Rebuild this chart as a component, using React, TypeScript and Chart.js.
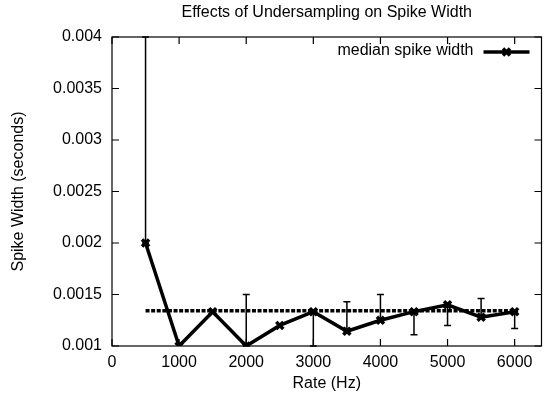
import React, { useEffect, useRef } from "react";
import { Chart, registerables } from "chart.js";

Chart.register(...registerables);

const titleText = "Effects of Undersampling on Spike Width";
const xAxisTitle = "Rate (Hz)";
const yAxisTitle = "Spike Width (seconds)";
const legendLabel = "median spike width";

const rates = [500, 1000, 1500, 2000, 2500, 3000, 3500, 4000, 4500, 5000, 5500, 6000];
const medianWidth = [0.002, 0.001, 0.0013333, 0.001, 0.0012, 0.0013333, 0.0011429, 0.00125, 0.0013333, 0.0014, 0.00128, 0.0013333];
const errLow = [0.002, 0.001, 0.0013333, 0.001, 0.0012, 0.001, 0.0011429, 0.00125, 0.00111, 0.0012, 0.00128, 0.00117];
const errHigh = [0.004, 0.001, 0.0013333, 0.0015, 0.0012, 0.0013333, 0.00143, 0.0015, 0.0013333, 0.0014, 0.00146, 0.0013333];

const meanX = [500, 6000];
const meanY = [0.001343, 0.001343];

const xTicks = [0, 1000, 2000, 3000, 4000, 5000, 6000];
const xTickLabels = ["0", "1000", "2000", "3000", "4000", "5000", "6000"];
const yTicks = [0.001, 0.0015, 0.002, 0.0025, 0.003, 0.0035, 0.004];
const yTickLabels = ["0.001", "0.0015", "0.002", "0.0025", "0.003", "0.0035", "0.004"];

const FONT = "'Liberation Sans', Arial, sans-serif";
const FS = 16;

const decorPlugin = {
  id: "decor",
  beforeDatasetsDraw(chart: any) {
    const ctx = chart.ctx;
    const xs = chart.scales.x;
    const ys = chart.scales.y;
    ctx.save();
    ctx.strokeStyle = "#000";
    ctx.lineWidth = 1.5;
    for (let i = 0; i < rates.length; i++) {
      if (errLow[i] === errHigh[i]) continue;
      const px = xs.getPixelForValue(rates[i]);
      const pl = ys.getPixelForValue(errLow[i]);
      const ph = ys.getPixelForValue(errHigh[i]);
      ctx.beginPath();
      ctx.moveTo(px, pl);
      ctx.lineTo(px, ph);
      ctx.moveTo(px - 3.5, pl);
      ctx.lineTo(px + 3.5, pl);
      ctx.moveTo(px - 3.5, ph);
      ctx.lineTo(px + 3.5, ph);
      ctx.stroke();
    }
    ctx.restore();
  },
  afterDraw(chart: any) {
    const ctx = chart.ctx;
    const a = chart.chartArea;
    const xs = chart.scales.x;
    const ys = chart.scales.y;
    ctx.save();
    ctx.strokeStyle = "#000";
    ctx.lineWidth = 1.2;
    ctx.strokeRect(a.left, a.top, a.right - a.left, a.bottom - a.top);
    ctx.beginPath();
    const tl = 7;
    xTicks.forEach((v) => {
      const px = xs.getPixelForValue(v);
      ctx.moveTo(px, a.bottom);
      ctx.lineTo(px, a.bottom - tl);
      ctx.moveTo(px, a.top);
      ctx.lineTo(px, a.top + tl);
    });
    yTicks.forEach((v) => {
      const py = ys.getPixelForValue(v);
      ctx.moveTo(a.left, py);
      ctx.lineTo(a.left + tl, py);
      ctx.moveTo(a.right, py);
      ctx.lineTo(a.right - tl, py);
    });
    ctx.stroke();

    // title
    ctx.fillStyle = "#000";
    ctx.font = `${FS}px ${FONT}`;
    ctx.textAlign = "center";
    ctx.textBaseline = "middle";
    ctx.fillText(titleText, (a.left + a.right) / 2, 13);

    // legend
    const ly = a.top + 14;
    const lx1 = a.right - 58;
    const lx2 = a.right - 12;
    ctx.textAlign = "right";
    ctx.fillText(legendLabel, lx1 - 10, ly);
    ctx.lineWidth = 3.5;
    ctx.beginPath();
    ctx.moveTo(lx1, ly + 1);
    ctx.lineTo(lx2, ly + 1);
    ctx.stroke();
    const cx = (lx1 + lx2) / 2;
    ctx.lineWidth = 3.5;
    ctx.beginPath();
    ctx.moveTo(cx - 3.5, ly - 2.5);
    ctx.lineTo(cx + 3.5, ly + 4.5);
    ctx.moveTo(cx + 3.5, ly - 2.5);
    ctx.lineTo(cx - 3.5, ly + 4.5);
    ctx.stroke();
    ctx.restore();
  },
};

export default function App() {
  const ref = useRef<HTMLCanvasElement | null>(null);
  useEffect(() => {
    if (!ref.current) return;
    const chart = new Chart(ref.current, {
      type: "line",
      data: {
        datasets: [
          {
            label: legendLabel,
            data: rates.map((r, i) => ({ x: r, y: medianWidth[i] })),
            borderColor: "#000",
            backgroundColor: "#000",
            borderWidth: 3.5,
            pointStyle: "crossRot",
            pointRadius: 5,
            pointBorderWidth: 3.5,
            pointBorderColor: "#000",
            tension: 0,
            fill: false,
          },
          {
            label: "mean",
            data: meanX.map((x, i) => ({ x, y: meanY[i] })),
            borderColor: "#000",
            borderWidth: 3.5,
            borderDash: [4, 1.6],
            pointRadius: 0,
            fill: false,
          },
        ],
      },
      options: {
        animation: false,
        responsive: true,
        maintainAspectRatio: false,
        layout: { padding: { top: 37, right: 5, left: 0, bottom: 0 } },
        plugins: {
          legend: { display: false },
          title: { display: false },
          tooltip: { enabled: false },
        },
        scales: {
          x: {
            type: "linear",
            min: 0,
            max: 6400,
            afterBuildTicks: (s: any) => {
              s.ticks = xTicks.map((v) => ({ value: v }));
            },
            afterFit: (s: any) => {
              s.height = 51;
            },
            grid: { display: false, drawTicks: false, tickLength: 0 },
            border: { display: false },
            ticks: {
              color: "#000",
              padding: 7,
              maxRotation: 0,
              font: { family: FONT, size: FS },
              callback: (v: any) => {
                const i = xTicks.indexOf(Number(v));
                return i >= 0 ? xTickLabels[i] : "";
              },
            },
            title: {
              display: true,
              text: xAxisTitle,
              color: "#000",
              font: { family: FONT, size: FS },
              padding: { top: 0, bottom: 4 },
            },
          },
          y: {
            type: "linear",
            min: 0.001,
            max: 0.004,
            afterBuildTicks: (s: any) => {
              s.ticks = yTicks.map((v) => ({ value: v }));
            },
            afterFit: (s: any) => {
              s.width = 112;
            },
            grid: { display: false, drawTicks: false, tickLength: 0 },
            border: { display: false },
            ticks: {
              color: "#000",
              padding: 10,
              font: { family: FONT, size: FS },
              callback: (v: any) => {
                const i = yTicks.findIndex((t) => Math.abs(t - Number(v)) < 1e-9);
                return i >= 0 ? yTickLabels[i] : "";
              },
            },
            title: {
              display: true,
              text: yAxisTitle,
              color: "#000",
              font: { family: FONT, size: FS },
              padding: { top: 9, bottom: 0 },
            },
          },
        },
      },
      plugins: [decorPlugin],
    });
    return () => chart.destroy();
  }, []);
  return (
    <div style={{ position: "absolute", left: 0, top: 0, width: 550, height: 397, background: "#fff" }}>
      <canvas ref={ref} />
    </div>
  );
}
